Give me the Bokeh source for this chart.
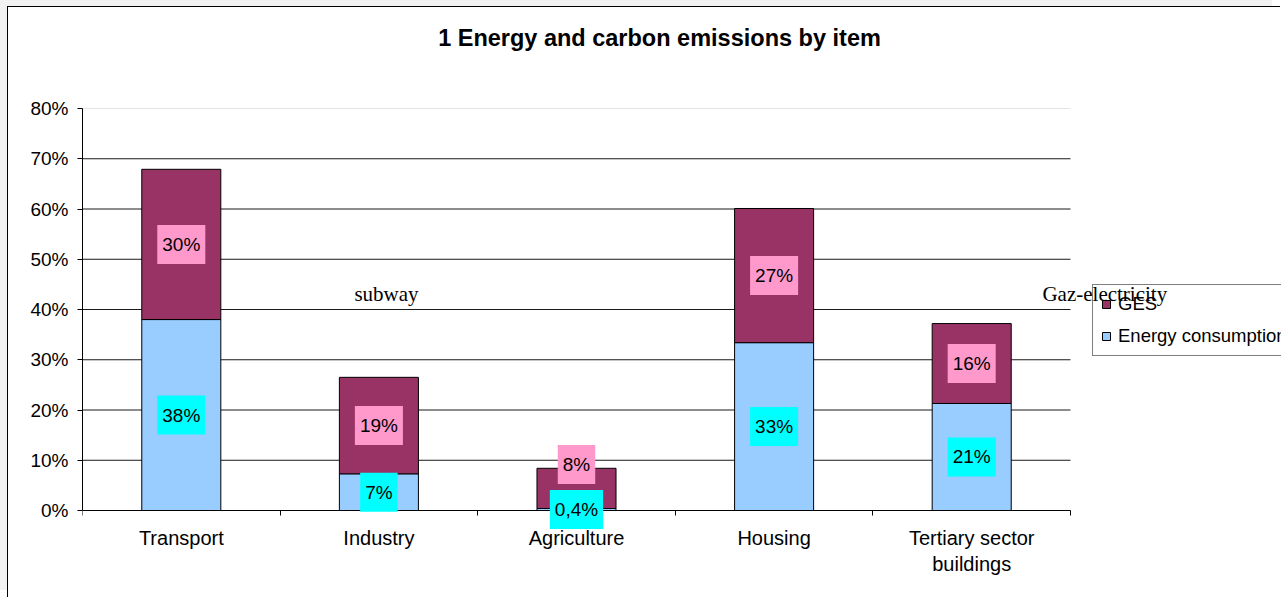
from bokeh.plotting import figure
from bokeh.models import (ColumnDataSource, FixedTicker, PrintfTickFormatter,
                          Label, Legend, LegendItem, Range1d)
from bokeh.embed import file_html
from bokeh.resources import INLINE
from bokeh.core.properties import value

# ---- data ----
categories = ["Transport", "Industry", "Agriculture", "Housing", "Tertiary sector\nbuildings"]
energy = [38.0, 7.3, 0.4, 33.4, 21.3]
ges = [29.9, 19.2, 8.0, 26.7, 15.9]
energy_labels = ["38%", "7%", "0,4%", "33%", "21%"]
ges_labels = ["30%", "19%", "8%", "27%", "16%"]
y_ticks = [0, 10, 20, 30, 40, 50, 60, 70, 80]
series_names = ["GES", "Energy consumption"]
title_text = "1 Energy and carbon emissions by item"
note_texts = ["subway", "Gaz-electricity"]
note_x = [1.376, 4.858]
note_y = [43.0, 43.0]

# ---- styling / layout constants ----
GES_COLOR = "#993366"
ENERGY_COLOR = "#99ccff"
GES_LABEL_BG = "#ff99cc"
ENERGY_LABEL_BG = "#00ffff"
FONT = "Liberation Sans"
SERIF = "Liberation Serif"
ges_label_shift = [0, 0, -24, 0, 0]  # px, label moved to avoid overlap

W, H = 1273, 591
LEFT = 74
PX_PER_CAT = 197.6
PX_PER_UNIT_Y = 5.025
ZERO_FROM_BOTTOM = 88

n = len(categories)
xs = [i + 0.5 for i in range(n)]
total = [e + g for e, g in zip(energy, ges)]
src = ColumnDataSource(dict(
    x=xs, energy=energy, total=total,
    e_mid=[e / 2 for e in energy],
    g_mid=[e + g / 2 for e, g in zip(energy, ges)],
    e_lab=energy_labels, g_lab=ges_labels, g_off=ges_label_shift,
))

x_end = (W - LEFT) / PX_PER_CAT
y_start = -ZERO_FROM_BOTTOM / PX_PER_UNIT_Y
y_end = (H - ZERO_FROM_BOTTOM) / PX_PER_UNIT_Y

p = figure(width=W, height=H, x_range=Range1d(0, x_end), y_range=Range1d(y_start, y_end),
           output_backend="svg", toolbar_location=None, title=None,
           min_border_left=LEFT, min_border_right=0, min_border_top=0, min_border_bottom=0)
p.styles = {"margin-left": "7px", "margin-top": "6px",
            "border-left": "1px solid #000000", "border-top": "1px solid #000000",
            "box-shadow": "-8px -7px 0 0 #f2f2f2"}
p.background_fill_color = "white"
p.border_fill_color = "white"
p.outline_line_color = None
p.xgrid.grid_line_color = None
p.ygrid.grid_line_color = None

# gridlines across the category span
grid_vals = y_ticks[1:-1]
p.segment(x0=[0] * len(grid_vals), x1=[n] * len(grid_vals), y0=grid_vals, y1=grid_vals,
          line_color="#1a1a1a", line_width=1)
p.segment(x0=[0], x1=[n], y0=[y_ticks[-1]], y1=[y_ticks[-1]], line_color="#e4e4e4", line_width=1)

r_en = p.vbar(x="x", bottom=0, top="energy", width=0.4, source=src,
              fill_color=ENERGY_COLOR, line_color="black", line_width=1)
r_ges = p.vbar(x="x", bottom="energy", top="total", width=0.4, source=src,
               fill_color=GES_COLOR, line_color="black", line_width=1)

# y axis
p.yaxis.ticker = FixedTicker(ticks=y_ticks)
p.yaxis.formatter = PrintfTickFormatter(format="%d%%")
p.yaxis.bounds = (y_ticks[0], y_ticks[-1])
p.yaxis.major_tick_out = 5
p.yaxis.major_tick_in = 0
p.yaxis.minor_tick_line_color = None
p.yaxis.major_label_standoff = 9
p.yaxis.major_label_text_font_size = "19px"

# x axis (drawn at y = 0)
p.xaxis.fixed_location = 0
p.xaxis.bounds = (0, n)
p.xaxis.ticker = FixedTicker(ticks=xs, minor_ticks=list(range(n + 1)))
p.xaxis.major_label_overrides = {x: c for x, c in zip(xs, categories)}
p.xaxis.major_tick_in = 0
p.xaxis.major_tick_out = 0
p.xaxis.minor_tick_in = 0
p.xaxis.minor_tick_out = 5
p.xaxis.minor_tick_line_color = "black"
p.xaxis.major_label_standoff = 11
p.xaxis.major_label_text_font_size = "20px"

for ax in (p.xaxis, p.yaxis):
    ax.axis_line_color = "black"
    ax.major_tick_line_color = "black"
    ax.major_label_text_font = FONT
    ax.major_label_text_color = "black"

# data labels
p.text(x="x", y="g_mid", text="g_lab", y_offset="g_off", source=src,
       text_align="center", text_baseline="middle",
       text_font=value(FONT), text_font_size="19px", text_color="black",
       background_fill_color=GES_LABEL_BG, padding=(5, 9), level="overlay")
p.text(x="x", y="e_mid", text="e_lab", source=src,
       text_align="center", text_baseline="middle",
       text_font=value(FONT), text_font_size="19px", text_color="black",
       background_fill_color=ENERGY_LABEL_BG, padding=(5, 9), level="overlay")

# title
p.add_layout(Label(x=2.92, y=94.1, text=title_text, text_align="center",
                   text_baseline="alphabetic", text_font=FONT, text_font_size="23.5px",
                   text_font_style="bold", text_color="black"))

legend = Legend(items=[LegendItem(label=series_names[0], renderers=[r_ges]),
                       LegendItem(label=series_names[1], renderers=[r_en])],
                location=(1010, 242), glyph_width=10, glyph_height=10,
                label_text_font=FONT, label_text_font_size="18.5px", label_text_color="black",
                border_line_color="black", border_line_width=1, padding=8, spacing=10,
                label_height=20, label_standoff=7, margin=0,
                background_fill_color="white", background_fill_alpha=0)
p.add_layout(legend)

# free text notes
p.text(x=note_x, y=note_y, text=note_texts, text_align="left", text_baseline="alphabetic",
       text_font=value(SERIF), text_font_size="21px", text_color="black", level="overlay")

open("out.html", "w").write(file_html(p, INLINE))
